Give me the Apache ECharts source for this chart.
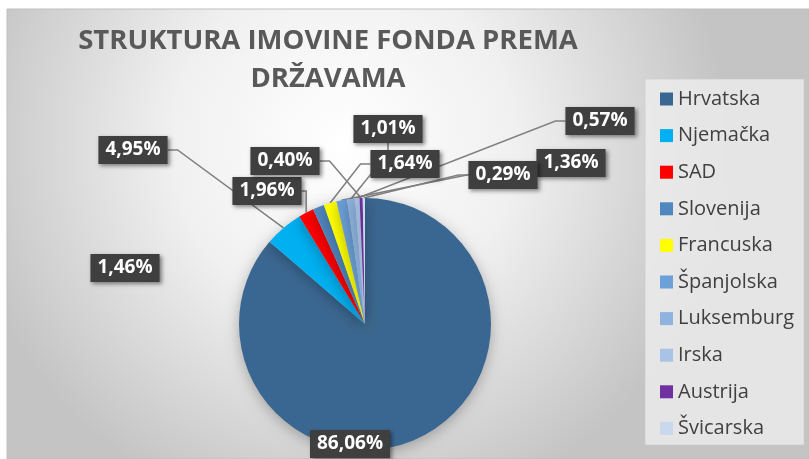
<!DOCTYPE html>
<html>
<head>
<meta charset="utf-8">
<script src="https://cdn.jsdelivr.net/npm/echarts@6/dist/echarts.min.js"></script>
<style>
html,body{margin:0;padding:0;background:#fff;}
#c{width:809px;height:459px;}
</style>
</head>
<body>
<div id="c"></div>
<script>
var categories = ['Hrvatska','Njemačka','SAD','Slovenija','Francuska','Španjolska','Luksemburg','Irska','Austrija','Švicarska'];
var shares = [86.06, 4.95, 1.96, 1.46, 1.64, 1.36, 1.01, 0.57, 0.40, 0.29];
var colors = ['#3A6791','#00B0F0','#FF0000','#4F87BF','#FFFF00','#6CA0D8','#8EB3DE','#A8C3E5','#7030A0','#C9D8EC'];
var titleText = 'STRUKTURA IMOVINE FONDA PREMA\nDRŽAVAMA';

// label box centres (layout only)
var labelPos = [[350,444],[133,150],[267,191],[125,268],[405,164],[571,163],[388,129],[600,121],[285,161],[503,175]];
var noLine = [0,3];

var chart = echarts.init(document.getElementById('c'), null, {renderer:'canvas'});
var data = categories.map(function(n,i){
  var d = {name:n, value:shares[i], itemStyle:{color:colors[i]}};
  if (noLine.indexOf(i) >= 0) d.labelLine = {show:false};
  return d;
});
chart.setOption({
  animation:false,
  color: colors,
  graphic:[
    {type:'rect', shape:{x:7,y:9,width:802,height:450}, silent:true, z:-10,
     style:{fill:{type:'radial', x:0.42, y:0.3, r:0.85, colorStops:[{offset:0,color:'#ffffff'},{offset:0.45,color:'#f0f0f0'},{offset:1,color:'#c4c4c4'}]}, stroke:'#bfbfbf', lineWidth:1}},
    {type:'rect', shape:{x:645,y:79,width:159,height:366}, silent:true, z:-9,
     style:{fill:'rgba(238,238,238,0.8)', stroke:'rgba(200,200,200,0.6)', lineWidth:1}},
    {type:'text', x:328, y:60, silent:true,
     style:{text:titleText, fill:'#595959', font:'bold 27.5px "Open Sans"', textAlign:'center', textVerticalAlign:'middle', lineHeight:38}}
  ],
  legend:{
    orient:'vertical', left:655, top:84, itemWidth:13, itemHeight:13, itemGap:16.6, icon:'rect',
    data:categories,
    textStyle:{color:'#404040', fontSize:20, fontFamily:'Open Sans', lineHeight:20, padding:[0,0,0,0]}
  },
  series:[{
    type:'pie', center:[365,324], radius:126, startAngle:90, clockwise:true,
    avoidLabelOverlap:false,
    data:data,
    itemStyle:{shadowBlur:14, shadowColor:'rgba(0,0,0,0.28)', shadowOffsetY:3},
    label:{
      show:true, position:'outside',
      formatter:function(p){ return p.value.toFixed(2).replace('.',',') + '%'; },
      color:'#ffffff', fontWeight:'bold', fontSize:19, fontFamily:'Open Sans',
      backgroundColor:'#3F3F3F', padding:[5,7,4,7],
      shadowBlur:4, shadowOffsetX:2, shadowOffsetY:2, shadowColor:'rgba(0,0,0,0.45)'
    },
    labelLine:{show:true, length:10, length2:10, lineStyle:{color:'#808080', width:1.5}},
    labelLayout:function(p){
      var pos = labelPos[p.dataIndex];
      return {x:pos[0], y:pos[1], align:'center', verticalAlign:'middle'};
    },
    emphasis:{disabled:true}
  }]
});
</script>
</body>
</html>
